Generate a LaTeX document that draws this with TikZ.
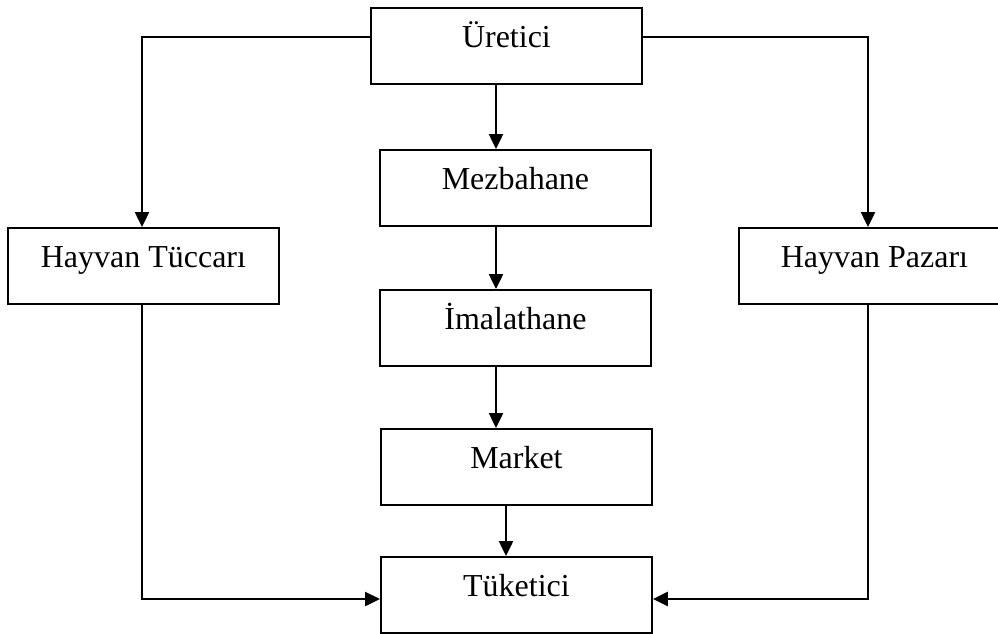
\documentclass[tikz,border=0pt]{standalone}
\usepackage{fontspec}
\setmainfont{Liberation Serif}
\usetikzlibrary{arrows.meta,positioning}
\tikzset{
  kutu/.style={draw, line width=1.1pt, rectangle, anchor=north west,
    minimum width=5.42cm, inner xsep=0pt, inner ysep=0pt,
    text height=0.8cm, text depth=0.72cm, font=\fontsize{18.2}{22}\selectfont},
  ok/.style={line width=1.4pt, -{Triangle[length=0.3cm,width=0.28cm]}}
}
\begin{document}
\begin{tikzpicture}[x=0.02cm, y=-0.02cm]
    \useasboundingbox (0,0) rectangle (998,633);
    \begin{scope}
      \clip (0,0) rectangle (998,633);
      \node[kutu] (ure) at (370,7) {Üretici};
      \node[kutu] (mez) at (379,149) {Mezbahane};
      \node[kutu] (ima) at (379,289) {İmalathane};
      \node[kutu] (mar) at (380,428) {Market};
      \node[kutu] (tuk) at (380,556) {Tüketici};
      \node[kutu] (tuc) at (7,227) {Hayvan Tüccarı};
      \node[kutu] (paz) at (738,227) {Hayvan Pazarı};
    \end{scope}

    % dis kollar
    \coordinate (ust sol) at (142,37);
    \coordinate (ust sag) at (868,37);
    \coordinate (alt sol) at (142,599);
    \coordinate (alt sag) at (868,599);
    \coordinate (orta) at (496,0);
    \coordinate (market) at (506,0);

    \draw[ok] (ust sol -| ure.west) -- (ust sol) -- (ust sol |- tuc.north);
    \draw[ok] (ust sag -| ure.east) -- (ust sag) -- (ust sag |- paz.north);
    \draw[ok] (alt sol |- tuc.south) -- (alt sol) -- (alt sol -| tuk.west);
    \draw[ok] (alt sag |- paz.south) -- (alt sag) -- (alt sag -| tuk.east);

    % orta zincir
    \draw[ok] (orta |- ure.south) -- (orta |- mez.north);
    \draw[ok] (orta |- mez.south) -- (orta |- ima.north);
    \draw[ok] (orta |- ima.south) -- (orta |- mar.north);
    \draw[ok] (market |- mar.south) -- (market |- tuk.north);
\end{tikzpicture}
\end{document}
